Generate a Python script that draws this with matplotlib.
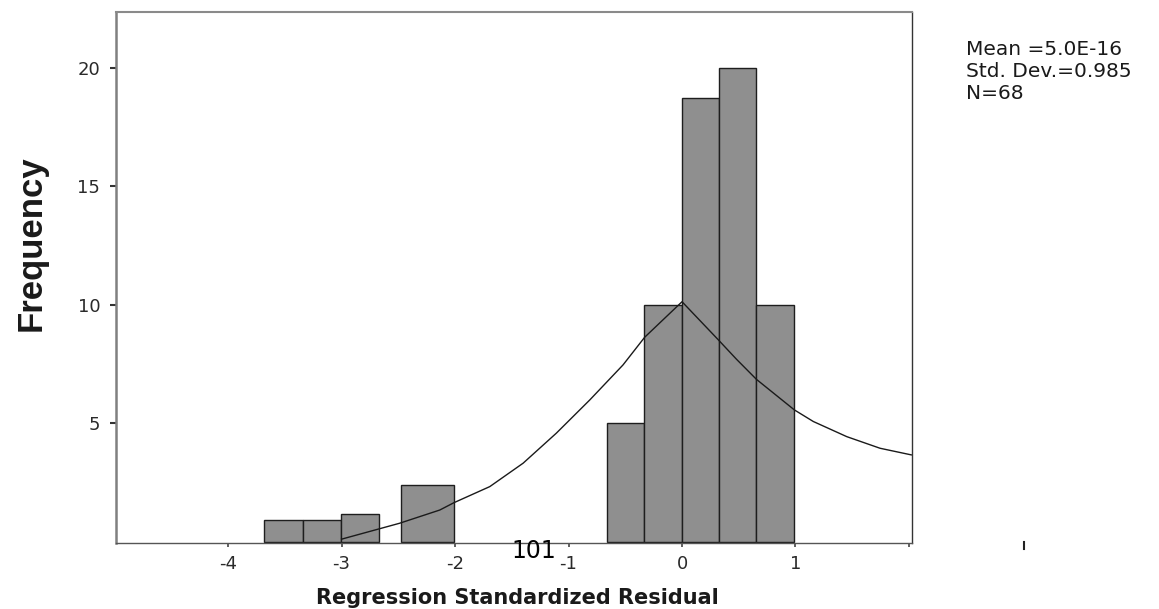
"""Histogram of regression standardized residuals with fitted curve."""
import matplotlib
matplotlib.use("Agg")
import matplotlib.pyplot as plt

# histogram bins (left / right edges) and frequencies
bin_left = [-3.684, -3.338, -3.008, -2.477, -0.665, -0.332, 0.003, 0.323, 0.655]
bin_right = [-3.338, -3.008, -2.671, -2.007, -0.332, 0.003, 0.323, 0.655, 0.99]
counts = [0.9, 0.9, 1.15, 2.4, 5.0, 10.0, 18.75, 20.0, 10.0]

# fitted curve
curve_x = [-3.0, -2.49, -2.135, -2.01, -1.694, -1.40, -1.107, -0.813, -0.52,
           -0.329, 0.0, 0.32, 0.48, 0.656, 0.99, 1.157, 1.452, 1.745, 2.02]
curve_y = [0.1, 0.77, 1.33, 1.64, 2.32, 3.31, 4.58, 5.98, 7.46,
           8.63, 10.13, 8.52, 7.7, 6.85, 5.56, 5.07, 4.43, 3.94, 3.66]

x_ticks = [-4, -3, -2, -1, 0, 1, 2]
x_tick_labels = ["-4", "-3", "-2", "-1", "0", "1", ""]
y_ticks = [5, 10, 15, 20]

stats_lines = ["Mean =5.0E-16", "Std. Dev.=0.985", "N=68"]

W, H = 1159, 609


def main():
    plt.rcParams["font.family"] = ["DejaVu Sans"]
    fig = plt.figure(figsize=(W / 100, H / 100), dpi=100)
    ax = fig.add_axes([116 / W, 1 - 542.7 / H, (911.7 - 116) / W, (542.7 - 12) / H])

    widths = [r - l for l, r in zip(bin_left, bin_right)]
    ax.bar(bin_left, counts, width=widths, align="edge", color="#8f8f8f",
           edgecolor="#1e1e1e", linewidth=1.0, zorder=2)
    ax.plot(curve_x, curve_y, color="#1a1a1a", lw=1.0, zorder=3)

    ax.set_xlim(-4.988, 2.024)
    ax.set_ylim(-0.05, 22.37)

    ax.set_xticks(x_ticks)
    ax.set_xticklabels(x_tick_labels)
    ax.set_yticks(y_ticks)
    ax.tick_params(axis="x", direction="out", length=3, width=1.2,
                   color="#444444", labelsize=13, labelcolor="#2a2a2a", pad=6)
    ax.tick_params(axis="y", direction="out", length=4.3, width=1.5,
                   color="#333333", labelsize=13, labelcolor="#2a2a2a", pad=7)

    ax.spines["left"].set_color("#808080")
    ax.spines["left"].set_linewidth(1.8)
    ax.spines["top"].set_color("#8a8a8a")
    ax.spines["top"].set_linewidth(1.5)
    ax.spines["right"].set_color("#333333")
    ax.spines["right"].set_linewidth(1.0)
    ax.spines["bottom"].set_color("#555555")
    ax.spines["bottom"].set_linewidth(1.0)

    # stray tick beyond the axis end
    ax.plot([3.01, 3.01], [0.002, -0.011], transform=ax.get_xaxis_transform(),
            color="#222222", lw=1.5, clip_on=False)

    fig.text(31 / W, 1 - 243 / H, "Frequency", rotation=90, ha="center",
             va="center", fontsize=25, fontweight="bold",
             family=["Liberation Sans", "DejaVu Sans"], color="#1a1a1a")
    fig.text(517 / W, 1 - 604 / H, "Regression Standardized Residual",
             ha="center", va="baseline", fontsize=15, fontweight="bold",
             color="#1a1a1a")

    for i, line in enumerate(stats_lines):
        fig.text(966 / W, 1 - (55 + 21.8 * i) / H, line, ha="left",
                 va="baseline", fontsize=14.5, color="#1a1a1a")

    fig.text(534 / W, 1 - 551 / H, "101", ha="center", va="center",
             fontsize=17, color="black")

    fig.savefig("out.png", dpi=100)


if __name__ == "__main__":
    main()
